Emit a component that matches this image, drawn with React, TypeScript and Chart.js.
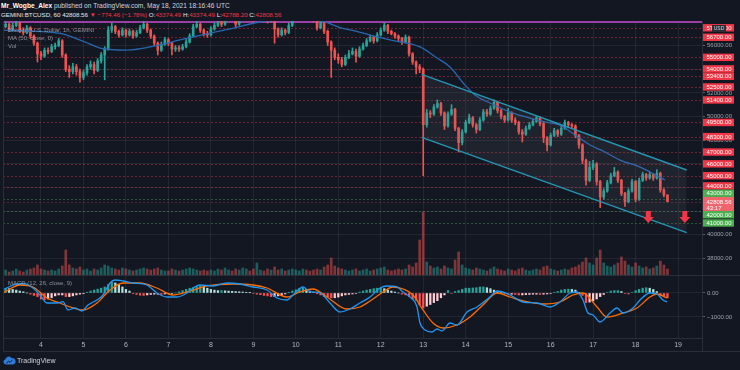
import React, { useEffect, useRef } from "react";
import { Chart, registerables } from "chart.js";

Chart.register(...registerables);

const BG = "#131722";
const FONT = "'Liberation Sans', Arial, sans-serif";
const UP = "#26a69a";
const DOWN = "#ef5350";
const GRID = "rgba(54,58,69,0.45)";

// 2-hour candles, first one at May 3 02:00 (day value 3 + 2/24)
const CANDLE_START = 3 + 2 / 24;
const CANDLE_STEP = 2 / 24;
const X_MIN = 3.1053;
const X_MAX = 19.564;

const dayTicks = [4, 5, 6, 7, 8, 9, 10, 11, 12, 13, 14, 15, 16, 17, 18, 19];
const dayLabels = ["4", "5", "6", "7", "8", "9", "10", "11", "12", "13", "14", "15", "16", "17", "18", "19"];

const firstOpen = 57500;
const closes = [
  57600, 57800, 57400, 57700, 57900, 57300, 57100, 57500, 56800, 56200,
  55300, 55100, 55600, 55500, 55900, 56000, 56400, 55200, 54000, 53800,
  54200, 53800, 53300, 53700, 54200, 54400, 53900, 54700, 55200, 55700,
  57300, 57600, 57200, 56900, 57300, 56900, 57200, 56800, 57100, 57500,
  57800, 57300, 56800, 56200, 55600, 56100, 56500, 56200, 55700, 55800,
  55700, 55900, 56300, 56800, 57600, 57800, 57300, 57000, 56900, 57400,
  57700, 58000, 57800, 58200, 58500, 58300, 57800, 58300, 58700, 59000,
  58800, 58200, 58500, 58800, 58400, 58100, 58300, 57400, 56900, 57300,
  57100, 57700, 58200, 58600, 58900, 59200, 59000, 58600, 58200, 57500,
  57900, 57200, 56300, 55600, 55000, 54800, 54400, 55000, 55300, 55500,
  55100, 55700, 56000, 56400, 56700, 56400, 56900, 57300, 57700, 57200,
  57000, 56800, 56600, 56300, 56700, 55300, 54600, 54200, 54000, 49300,
  50300, 50200, 50800, 51100, 50300, 49200, 50200, 50600, 49000, 47800,
  48700, 49500, 49900, 49300, 48900, 49700, 50400, 50200, 50700, 51200,
  50500, 50000, 49700, 50300, 49700, 49500, 48700, 48500, 49000, 49300,
  49600, 49900, 49400, 48200, 47600, 48400, 48800, 48500, 49000, 49500,
  49300, 49200, 48400, 47600, 46300, 44600, 45700, 46000, 44500, 43200,
  43700, 44400, 45000, 45300, 44600, 43500, 42800, 43700, 44500, 43000,
  44600, 45100, 44800, 45100, 44800, 45200, 43800, 43374.49, 42808.56,
];
const highs = [
  57900, 58000, 57900, 57900, 58200, 58000, 57500, 57700, 57600, 56900,
  56300, 55500, 55800, 55800, 56100, 56200, 56600, 56500, 55300, 54300,
  54500, 54400, 54000, 53900, 54400, 54700, 54600, 54900, 55400, 55900,
  57600, 57900, 57700, 57300, 57500, 57400, 57400, 57300, 57300, 57700,
  58300, 57900, 57400, 56900, 56300, 56300, 56700, 56600, 56300, 56000,
  56000, 56100, 56500, 57000, 57800, 58100, 57900, 57400, 57200, 57600,
  57900, 58300, 58200, 58400, 58800, 58700, 58400, 58500, 59000, 59300,
  59200, 58900, 58700, 59100, 58900, 58500, 58600, 58400, 57500, 57500,
  57400, 57900, 58400, 58800, 59100, 59500, 59400, 59100, 58700, 58300,
  58100, 58000, 57300, 56400, 55800, 55300, 55000, 55200, 55600, 55800,
  55700, 55900, 56200, 56600, 56900, 56800, 57100, 57500, 57900, 57800,
  57300, 57100, 56900, 56700, 56900, 56800, 55400, 54700, 54400, 54100,
  50600, 50500, 51000, 51400, 51200, 50400, 50400, 51000, 50700, 49100,
  48900, 49700, 50200, 50000, 49400, 49900, 50600, 50600, 50900, 51400,
  51300, 50600, 50100, 50700, 50400, 49900, 49600, 48900, 49200, 49500,
  49800, 50000, 50000, 49500, 48300, 48600, 49000, 48900, 49200, 49700,
  49600, 49400, 49300, 48500, 47700, 46400, 46200, 46300, 46100, 44600,
  43900, 44600, 45200, 45700, 45400, 44700, 43600, 43900, 44700, 44600,
  44800, 45300, 45200, 45300, 45200, 45500, 45300, 43900, 43374.49,
];
const lows = [
  57300, 57500, 57200, 57300, 57600, 57100, 56900, 57000, 56600, 56000,
  54600, 54800, 55000, 55300, 55400, 55700, 55900, 55000, 53800, 53300,
  53600, 53500, 52900, 53100, 53500, 54000, 53600, 53800, 54500, 53100,
  55600, 57100, 57000, 56700, 56800, 56700, 56800, 56600, 56700, 57000,
  57400, 57100, 56600, 56000, 55200, 55500, 56000, 56000, 55200, 55500,
  55500, 55600, 55800, 56200, 56700, 57500, 57100, 56800, 56700, 56800,
  57300, 57600, 57600, 57700, 58100, 58100, 57600, 57700, 58200, 58600,
  58600, 58000, 58100, 58400, 58200, 57900, 58000, 56200, 56700, 56800,
  56900, 57000, 57600, 58100, 58500, 58800, 58800, 58400, 58000, 57300,
  57400, 57000, 56000, 53300, 54800, 54500, 54200, 54300, 54900, 55200,
  54600, 55000, 55600, 55900, 56300, 56200, 56300, 56800, 57200, 57000,
  56900, 56600, 56400, 56100, 56200, 55100, 54400, 53600, 53700, 45000,
  49100, 49900, 50100, 50700, 50100, 48900, 49100, 50100, 48800, 47000,
  47600, 48600, 49400, 49100, 48600, 48800, 49600, 50000, 50100, 50600,
  50300, 49800, 49500, 49600, 49500, 49300, 48500, 47850, 48400, 48900,
  49200, 49500, 49200, 47800, 47100, 47500, 48300, 48300, 48400, 48900,
  49100, 49000, 48200, 47300, 46000, 44200, 44500, 45500, 44200, 42300,
  43000, 43600, 44300, 44900, 44400, 43300, 42400, 42700, 43600, 42800,
  42900, 44500, 44600, 44700, 44600, 44700, 43600, 43200, 42788.2,
];
const volumes = [
  40, 50, 30, 40, 60, 40, 30, 50, 60, 70,
  100, 60, 50, 40, 50, 40, 60, 90, 250, 100,
  70, 60, 80, 50, 60, 40, 60, 50, 70, 100,
  90, 70, 60, 50, 70, 60, 50, 40, 50, 60,
  70, 60, 50, 60, 70, 50, 40, 40, 60, 50,
  40, 50, 60, 70, 60, 50, 40, 50, 40, 50,
  40, 60, 50, 70, 50, 40, 60, 50, 70, 60,
  40, 60, 120, 50, 40, 60, 50, 80, 50, 60,
  40, 50, 60, 50, 40, 60, 50, 40, 50, 60,
  50, 80, 100, 170, 90, 70, 60, 50, 40, 50,
  60, 40, 50, 60, 40, 50, 60, 70, 80, 50,
  40, 50, 60, 50, 60, 100, 80, 120, 350, 630,
  130, 90, 70, 80, 60, 90, 70, 60, 150, 230,
  100, 70, 60, 50, 70, 60, 50, 40, 60, 80,
  60, 50, 40, 60, 50, 40, 60, 70, 50, 40,
  50, 60, 50, 80, 90, 60, 50, 40, 50, 60,
  50, 70, 80, 100, 130, 170, 120, 100, 170, 250,
  120, 90, 80, 100, 120, 180, 140, 100, 80, 120,
  90, 70, 80, 60, 70, 90, 140, 100, 60,
];
const VOL_MAX = 2540;

const maDays = [3.105, 4.447, 5.036, 5.389, 6.025, 6.567, 7.273, 7.556, 8.45, 8.921, 9.157, 9.863, 10.45, 10.687, 11.04, 11.39, 11.747, 12.218, 12.924, 13.324, 13.63, 13.983, 14.219, 14.572, 15.043, 15.514, 15.867, 16.22, 16.574, 16.927, 17.28, 17.633, 18.104, 18.34, 18.693];
const maValues = [57310, 57030, 56300, 55790, 55620, 55880, 56470, 56720, 57400, 57820, 57990, 58300, 58200, 57990, 57520, 57230, 56890, 56470, 55880, 54950, 54190, 52660, 51820, 51140, 50380, 49870, 49540, 49280, 48440, 47590, 47000, 46320, 45730, 45310, 44630];

const macdHist = [
  200, 200, 180, 150, 120, 80, 50, 0, -50, -100,
  -150, -250, -280, -250, -200, -120, -80, -80, -150, -150,
  -120, -80, -50, -30, 30, 80, 120, 160, 200, 250,
  350, 450, 420, 350, 250, 150, 80, -30, -60, -90,
  -100, -80, -60, -50, -50, -60, -40, -30, -20, 0,
  50, 100, 150, 200, 220, 260, 300, 260, 200, 150,
  120, 100, 100, 90, 80, 70, 60, 50, 40, 30,
  10, -20, -50, -70, -100, -120, -150, -150, -120, -80,
  -40, 30, 80, 130, 180, 200, 150, 80, 30, -30,
  -80, -150, -180, -200, -200, -170, -120, -80, -60, -40,
  -20, 40, 80, 120, 150, 180, 200, 200, 180, 120,
  80, 40, 0, -50, -80, -150, -250, -300, -500, -625,
  -550, -480, -400, -320, -200, -80, 100, -20, 60, 100,
  150, 200, 200, 210, 220, 250, 250, 220, 180, 120,
  50, 20, -30, -50, -50, -60, -80, -80, -70, -60,
  -50, -50, -60, -50, -40, -20, 30, 60, 120, 150,
  160, 150, 120, 20, -100, -400, -380, -330, -250, -150,
  -60, 20, 80, 100, 100, 60, -20, -40, 20, 100,
  150, 200, 220, 200, 150, 60, -100, -150, -200,
];
const macdDays = [3.105, 3.341, 3.576, 3.812, 3.976, 4.141, 4.377, 4.518, 4.636, 4.801, 4.965, 5.107, 5.319, 5.46, 5.625, 5.742, 5.931, 6.166, 6.496, 6.731, 6.967, 7.202, 7.438, 7.579, 7.744, 8.05, 8.38, 8.686, 8.992, 9.321, 9.557, 9.792, 9.934, 10.169, 10.334, 10.569, 10.805, 11.04, 11.276, 11.511, 11.747, 11.982, 12.147, 12.382, 12.524, 12.689, 12.853, 12.924, 13.042, 13.207, 13.324, 13.442, 13.63, 13.795, 14.031, 14.266, 14.572, 14.737, 15.043, 15.349, 15.679, 15.985, 16.22, 16.456, 16.621, 16.762, 16.88, 16.998, 17.163, 17.398, 17.563, 17.704, 17.94, 18.104, 18.34, 18.505, 18.646, 18.74];
const macdValues = [125, 333, 404, 208, -83, -417, -417, -362, -708, -625, -750, -500, -292, -83, 417, 542, 500, 417, 333, 0, -167, -167, 0, 208, 333, 292, 417, 375, 250, 125, -208, -292, -83, 250, 54, 0, -417, -792, -667, -417, -167, 208, 292, 250, 42, -167, -583, -1250, -1542, -1625, -1500, -1583, -1250, -1333, -792, -583, -167, 83, -83, -375, -417, -583, -375, 0, 42, -292, -833, -917, -1208, -833, -625, -833, -625, -292, 0, -42, -292, -375];
const signalDays = [3.105, 3.506, 3.812, 4.141, 4.447, 4.753, 4.989, 5.319, 5.625, 5.931, 6.331, 6.731, 7.108, 7.438, 7.909, 8.521, 8.992, 9.321, 9.792, 10.098, 10.404, 10.734, 11.205, 11.511, 11.747, 12.053, 12.288, 12.524, 12.759, 12.995, 13.23, 13.466, 13.795, 14.101, 14.407, 14.737, 15.043, 15.349, 15.82, 16.22, 16.527, 16.762, 17.092, 17.327, 17.704, 18.034, 18.34, 18.505, 18.74];
const signalValues = [0, 333, 250, -208, -417, -625, -708, -417, 125, 417, 417, 208, -83, 42, 292, 375, 333, 208, -167, 42, 167, -167, -667, -583, -333, 42, 250, 167, -83, -708, -1250, -1458, -1333, -1000, -500, 0, -167, -333, -458, -375, -83, 0, -583, -1000, -833, -625, -167, -42, -208];

const priceTicks = [38000, 40000, 42000, 44000, 46000, 48000, 50000, 52000, 54000, 56000];
const macdTicks = [0, -1000];
const redLevels = [57500, 56700, 55000, 54000, 53400, 52500, 51400, 49500, 48300, 47000, 46000, 45000, 44000];
const greenLevels = [43000, 42000, 41000];
const topLine = 58000;
const lastPrice = 42808.56;
const countdown = "43:17";
const channelDays = [12.964, 19.204];
const channelUpper = [53568, 45478];
const channelLower = [48243, 40178];
const arrowDays = [18.3, 19.16];
const arrowTips = [41000, 41000];

const fmtPrice = (v: number) => v.toFixed(2);
const fmtMacd = (v: number) => (v < 0 ? "\u2212" : "") + Math.abs(v).toFixed(2);

const overlayPlugin = {
  id: "overlay",
  beforeDatasetsDraw(chart: any) {
    const { ctx, chartArea: a, scales } = chart;
    const y = scales.y;
    ctx.save();
    ctx.beginPath();
    ctx.rect(a.left, a.top, a.right - a.left, a.bottom - a.top);
    ctx.clip();
    ctx.lineWidth = 1;
    ctx.setLineDash([2, 2]);
    const draw = (p: number, c: string) => {
      const py = Math.round(y.getPixelForValue(p)) + 0.5;
      ctx.strokeStyle = c;
      ctx.beginPath();
      ctx.moveTo(a.left, py);
      ctx.lineTo(a.right, py);
      ctx.stroke();
    };
    redLevels.forEach((p) => draw(p, "rgba(242,54,69,0.42)"));
    greenLevels.forEach((p) => draw(p, "rgba(76,175,80,0.42)"));
    draw(lastPrice, "rgba(239,83,80,0.3)");
    ctx.setLineDash([]);
    ctx.lineWidth = 2;
    ctx.strokeStyle = "#9b3fa6";
    const ty = y.getPixelForValue(topLine);
    ctx.beginPath();
    ctx.moveTo(a.left, ty);
    ctx.lineTo(a.right, ty);
    ctx.stroke();
    ctx.restore();
  },
  afterDatasetsDraw(chart: any) {
    const { ctx, scales } = chart;
    const x = scales.x;
    const y = scales.y;
    ctx.save();
    ctx.fillStyle = "#f23645";
    arrowDays.forEach((d, i) => {
      const px = x.getPixelForValue(d);
      const tip = y.getPixelForValue(arrowTips[i]);
      ctx.beginPath();
      ctx.moveTo(px - 2.5, tip - 12);
      ctx.lineTo(px + 2.5, tip - 12);
      ctx.lineTo(px + 2.5, tip - 6);
      ctx.lineTo(px + 5.5, tip - 6);
      ctx.lineTo(px, tip);
      ctx.lineTo(px - 5.5, tip - 6);
      ctx.lineTo(px - 2.5, tip - 6);
      ctx.closePath();
      ctx.fill();
    });
    ctx.restore();
  },
  afterDraw(chart: any) {
    const { ctx, chartArea: a, scales } = chart;
    const y = scales.y;
    const H = 7.4;
    const boxL = a.right + 0.5;
    const boxW = 31.5;
    const cy = y.getPixelForValue(lastPrice);
    const curTop = cy - 4.6;
    const curBot = cy + 9.4;
    const items = [
      ...redLevels.map((p) => ({ p, c: "#f23645", y: y.getPixelForValue(p) })),
      ...greenLevels.map((p) => ({ p, c: "#4caf50", y: y.getPixelForValue(p) })),
    ];
    const above = items.filter((it) => it.y < cy).sort((m, n) => n.y - m.y);
    const below = items.filter((it) => it.y >= cy).sort((m, n) => m.y - n.y);
    let lim = curTop;
    above.forEach((it) => {
      if (it.y + H / 2 > lim) it.y = lim - H / 2;
      lim = it.y - H / 2;
    });
    lim = curBot;
    below.forEach((it) => {
      if (it.y - H / 2 < lim) it.y = lim + H / 2;
      lim = it.y + H / 2;
    });
    ctx.save();
    ctx.font = `6px ${FONT}`;
    ctx.textBaseline = "middle";
    ctx.textAlign = "left";
    items.forEach((it) => {
      ctx.fillStyle = it.c;
      ctx.fillRect(boxL, it.y - H / 2, boxW, H);
      ctx.fillStyle = "#ffffff";
      ctx.fillText(fmtPrice(it.p), boxL + 4, it.y + 0.3);
    });
    ctx.fillStyle = "#f0646c";
    ctx.fillRect(boxL, curTop, boxW, curBot - curTop);
    ctx.fillStyle = "#ffffff";
    ctx.fillText(fmtPrice(lastPrice), boxL + 4, cy + 0.3);
    ctx.fillText(countdown, boxL + 4, cy + 6.3);
    // currency badge
    ctx.fillStyle = "#2a2e39";
    ctx.fillRect(712, 4, 14, 7);
    ctx.fillStyle = "#d1d4dc";
    ctx.font = `5px ${FONT}`;
    ctx.textAlign = "center";
    ctx.fillText("USD", 719, 7.7);
    ctx.restore();
  },
};

const noPad = (s: any) => {
  s.paddingTop = 0;
  s.paddingBottom = 0;
  s.paddingLeft = 0;
  s.paddingRight = 0;
};

export default function App() {
  const mainRef = useRef<HTMLCanvasElement>(null);
  const macdRef = useRef<HTMLCanvasElement>(null);

  useEffect(() => {
    const opens = closes.map((c, i) => (i === 0 ? firstOpen : closes[i - 1]));
    const days = closes.map((_, i) => CANDLE_START + i * CANDLE_STEP);
    const isUp = closes.map((c, i) => c >= opens[i]);
    const candleColors = isUp.map((u) => (u ? UP : DOWN));
    const volColors = isUp.map((u) => (u ? "rgba(38,166,154,0.5)" : "rgba(239,83,80,0.5)"));
    const histColors = macdHist.map((v, i) => {
      const prev = i === 0 ? v : macdHist[i - 1];
      if (v >= 0) return v >= prev ? "#26a69a" : "#b2dfdb";
      return v < prev ? "#ff5252" : "#ffcdd2";
    });

    const xCommon = {
      type: "linear",
      min: X_MIN,
      max: X_MAX,
      offset: false,
      afterBuildTicks: (s: any) => {
        s.ticks = dayTicks.map((v) => ({ value: v }));
      },
      grid: { color: GRID, drawTicks: false, offset: false },
      border: { display: false },
    };

    const main = new Chart(mainRef.current as HTMLCanvasElement, {
      type: "bar",
      data: {
        datasets: [
          {
            type: "line",
            data: channelDays.map((d, i) => ({ x: d, y: channelUpper[i] })),
            borderColor: "#2596b4",
            borderWidth: 1.4,
            pointRadius: 0,
            fill: false,
            order: 1,
          },
          {
            type: "line",
            data: channelDays.map((d, i) => ({ x: d, y: channelLower[i] })),
            borderColor: "#2596b4",
            borderWidth: 1.4,
            pointRadius: 0,
            fill: "-1",
            backgroundColor: "rgba(120,123,134,0.12)",
            order: 1,
          },
          {
            type: "line",
            data: maDays.map((d, i) => ({ x: d, y: maValues[i] })),
            borderColor: "#2867b2",
            borderWidth: 1.3,
            pointRadius: 0,
            cubicInterpolationMode: "monotone",
            order: 2,
          },
          {
            data: days.map((d, i) => ({ x: d, y: [lows[i], highs[i]] })),
            backgroundColor: candleColors,
            barThickness: 1,
            grouped: false,
            order: 4,
          },
          {
            data: days.map((d, i) => ({ x: d, y: [opens[i], closes[i]] })),
            backgroundColor: candleColors,
            barThickness: 2,
            minBarLength: 1,
            grouped: false,
            order: 3,
          },
          {
            data: days.map((d, i) => ({ x: d, y: volumes[i] })),
            backgroundColor: volColors,
            barThickness: 2,
            grouped: false,
            yAxisID: "yv",
            order: 6,
          },
        ],
      },
      options: {
        animation: false,
        responsive: false,
        devicePixelRatio: 1,
        layout: { padding: { left: 3, right: 0, top: 0, bottom: 0 } },
        plugins: { legend: { display: false }, tooltip: { enabled: false } },
        scales: {
          x: {
            ...xCommon,
            ticks: { display: false },
            afterFit: (s: any) => {
              s.height = 0;
              noPad(s);
            },
          },
          y: {
            position: "right",
            min: 36603,
            max: 58074,
            afterBuildTicks: (s: any) => {
              s.ticks = priceTicks.map((v) => ({ value: v }));
            },
            ticks: {
              color: "#9ea1aa",
              font: { size: 6, family: FONT },
              padding: 2,
              callback: (v: any) => fmtPrice(Number(v)),
            },
            grid: { color: GRID, tickLength: 3, tickColor: "#5d606b" },
            border: { display: false },
            afterFit: (s: any) => {
              s.width = 38;
              noPad(s);
            },
          },
          yv: {
            display: false,
            min: 0,
            max: VOL_MAX,
            afterFit: (s: any) => noPad(s),
          },
        },
      } as any,
      plugins: [overlayPlugin],
    } as any);

    const macd = new Chart(macdRef.current as HTMLCanvasElement, {
      type: "bar",
      data: {
        datasets: [
          {
            type: "line",
            data: macdDays.map((d, i) => ({ x: d, y: macdValues[i] })),
            borderColor: "#2196f3",
            borderWidth: 1.3,
            pointRadius: 0,
            cubicInterpolationMode: "monotone",
            yAxisID: "ym",
            order: 1,
          },
          {
            type: "line",
            data: signalDays.map((d, i) => ({ x: d, y: signalValues[i] })),
            borderColor: "#ff6d00",
            borderWidth: 1.3,
            pointRadius: 0,
            cubicInterpolationMode: "monotone",
            yAxisID: "ym",
            order: 2,
          },
          {
            data: days.map((d, i) => ({ x: d, y: macdHist[i] })),
            backgroundColor: histColors,
            barThickness: 1.6,
            grouped: false,
            yAxisID: "ym",
            order: 3,
          },
        ],
      },
      options: {
        animation: false,
        responsive: false,
        devicePixelRatio: 1,
        layout: { padding: { left: 3, right: 0, top: 0, bottom: 0 } },
        plugins: { legend: { display: false }, tooltip: { enabled: false } },
        scales: {
          x: {
            ...xCommon,
            ticks: {
              color: "#b2b5be",
              font: { size: 7, family: FONT },
              padding: 3,
              maxRotation: 0,
              autoSkip: false,
              callback: (v: any) => dayLabels[dayTicks.indexOf(Number(v))],
            },
            afterFit: (s: any) => {
              s.height = 14;
              noPad(s);
            },
          },
          ym: {
            position: "right",
            min: -1875,
            max: 708,
            afterBuildTicks: (s: any) => {
              s.ticks = macdTicks.map((v) => ({ value: v }));
            },
            ticks: {
              color: "#9ea1aa",
              font: { size: 6, family: FONT },
              padding: 2,
              callback: (v: any) => fmtMacd(Number(v)),
            },
            grid: { color: GRID, tickLength: 3, tickColor: "#5d606b" },
            border: { display: false },
            afterFit: (s: any) => {
              s.width = 38;
              noPad(s);
            },
          },
        },
      } as any,
    } as any);

    return () => {
      main.destroy();
      macd.destroy();
    };
  }, []);

  const line = (l: number, t: number, w: number, h: number) => (
    <div style={{ position: "absolute", left: l, top: t, width: w, height: h, background: "#2a2e39" }} />
  );
  const txt = { position: "absolute" as const, whiteSpace: "nowrap" as const, lineHeight: "8px" };
  const red = { color: "#f23645" };

  return (
    <div
      style={{
        position: "fixed",
        left: 0,
        top: 0,
        width: 740,
        height: 370,
        background: BG,
        overflow: "hidden",
        fontFamily: FONT,
      }}
    >
      <div style={{ ...txt, left: 1, top: 1.7, fontSize: 6.6, color: "#d1d4dc" }}>
        <span style={{ color: "#ffffff", fontWeight: 700 }}>Mr_Wogbe_Alex</span> published on TradingView.com, May 18,
        2021 18:16:46 UTC
      </div>
      <div style={{ ...txt, left: 1, top: 10.7, fontSize: 6.2, color: "#e6e8ee" }}>
        GEMINI:BTCUSD, 60 42808.56 <span style={red}>▼ −774.46 (−1.78%)</span> O:<span style={red}>43374.49</span> H:
        <span style={red}>43374.49</span> L:<span style={red}>42788.20</span> C:<span style={red}>42808.56</span>
      </div>
      <canvas
        ref={mainRef}
        width={740}
        height={254}
        style={{ position: "absolute", left: 0, top: 21, width: 740, height: 254, display: "block" }}
      />
      <canvas
        ref={macdRef}
        width={740}
        height={76}
        style={{ position: "absolute", left: 0, top: 276, width: 740, height: 76, display: "block" }}
      />
      {line(3, 275, 737, 1)}
      {line(3, 338, 699, 1)}
      {line(3, 351, 737, 1)}
      {line(702, 21, 1, 331)}
      {line(3, 21, 1, 331)}
      <div style={{ ...txt, left: 8, top: 26, fontSize: 6, color: "rgba(178,181,190,0.75)" }}>
        Bitcoin / U.S. Dollar, 1h, GEMINI
      </div>
      <div style={{ ...txt, left: 8, top: 34, fontSize: 6, color: "rgba(178,181,190,0.75)" }}>MA (50, close, 0)</div>
      <div style={{ ...txt, left: 8, top: 42, fontSize: 6, color: "rgba(178,181,190,0.75)" }}>Vol</div>
      <div style={{ ...txt, left: 8, top: 279, fontSize: 6, color: "rgba(178,181,190,0.75)" }}>
        MACD (12, 26, close, 9)
      </div>
      <svg style={{ position: "absolute", left: 3, top: 356 }} width="13" height="9" viewBox="0 0 13 9">
        <path
          d="M3 8.5 A2.7 2.7 0 0 1 2.4 3.2 A3.4 3.4 0 0 1 8.6 2.2 A3.2 3.2 0 0 1 10 8.5 Z"
          fill="#2f7bdc"
        />
        <path d="M3.5 7.5 L5.6 5 L7.2 6.4 L9.4 3.8" stroke="#131722" strokeWidth="0.9" fill="none" />
      </svg>
      <div style={{ ...txt, left: 17, top: 357, fontSize: 7, color: "#d1d4dc" }}>TradingView</div>
    </div>
  );
}
